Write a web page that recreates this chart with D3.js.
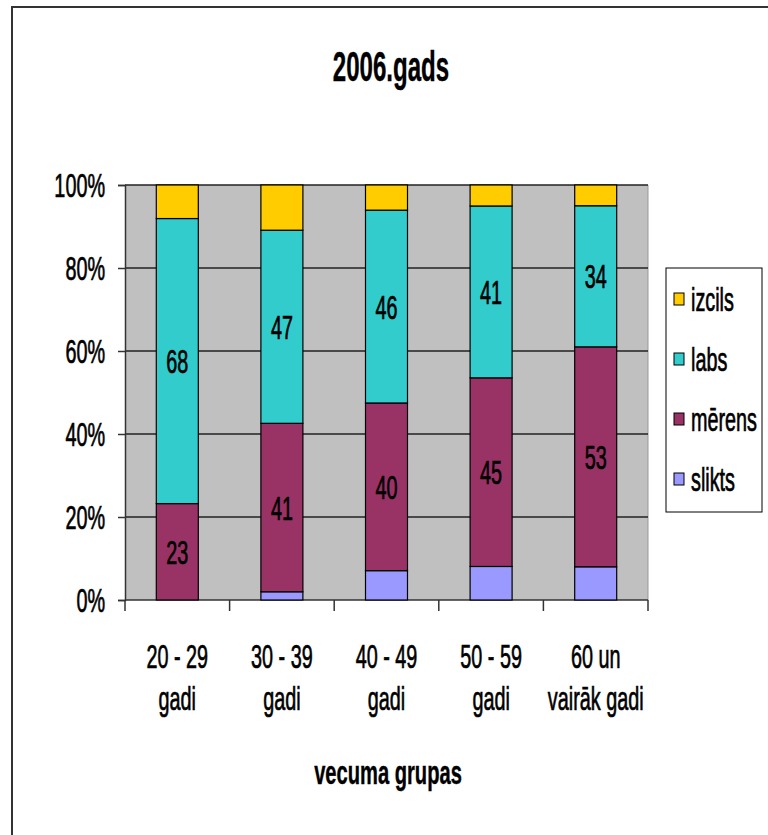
<!DOCTYPE html>
<html>
<head>
<meta charset="utf-8">
<script src="https://cdn.jsdelivr.net/npm/d3@7/dist/d3.min.js"></script>
<style>
  html, body { margin: 0; padding: 0; background: #fff; }
  svg { display: block; }
  text { font-family: 'Liberation Sans', Arial, sans-serif; fill: #000; }
</style>
</head>
<body>
<svg id="chart" width="768" height="835"></svg>
<script>
// age groups (two-line tick labels)
const groups = ['20 - 29 gadi', '30 - 39 gadi', '40 - 49 gadi', '50 - 59 gadi', '60 un vairāk gadi'];
const groupLines = [['20 - 29', 'gadi'], ['30 - 39', 'gadi'], ['40 - 49', 'gadi'], ['50 - 59', 'gadi'], ['60 un', 'vairāk gadi']];

// series, bottom to top
const slikts = [0, 2, 7, 8, 8];
const merens = [23, 41, 40, 45, 53];
const labs = [68, 47, 46, 41, 34];
const izcils = [8, 11, 6, 5, 5];

const seriesKeys = ['slikts', 'mērens', 'labs', 'izcils'];
const colors = {slikts: '#9999FF', 'mērens': '#993366', labs: '#33CCCC', izcils: '#FFCC00'};
const labelled = ['mērens', 'labs'];
const yTicks = [0, 0.2, 0.4, 0.6, 0.8, 1];

const rows = groups.map(function (g, i) {
  return {group: g, slikts: slikts[i], 'mērens': merens[i], labs: labs[i], izcils: izcils[i]};
});

const svg = d3.select('#chart');
const plot = {left: 125, top: 185, right: 648, bottom: 600};
const SX = 0.6;

function label(sel, x, y, txt, opts) {
  opts = opts || {};
  return sel.append('text')
    .attr('transform', 'translate(' + x + ',' + y + ') scale(' + (opts.sx || SX) + ',1)')
    .attr('text-anchor', opts.anchor || 'middle')
    .style('font-size', (opts.size || 33) + 'px')
    .style('font-weight', opts.bold ? 'bold' : 'normal')
    .style('stroke', '#000')
    .style('stroke-width', opts.bold ? 0.4 : 0.7)
    .text(txt);
}

// outer chart frame
svg.append('path')
  .attr('d', 'M12,840 L12,7 L770,7')
  .attr('fill', 'none')
  .attr('stroke', '#333')
  .attr('stroke-width', 2);

const x = d3.scaleBand().domain(groups).range([plot.left, plot.right]).paddingInner(0).paddingOuter(0);
const y = d3.scaleLinear().domain([0, 1]).range([plot.bottom, plot.top]);

// plot area
svg.append('rect')
  .attr('x', plot.left).attr('y', plot.top)
  .attr('width', plot.right - plot.left).attr('height', plot.bottom - plot.top)
  .attr('fill', '#C0C0C0');
svg.append('line')
  .attr('x1', plot.right).attr('x2', plot.right)
  .attr('y1', plot.top).attr('y2', plot.bottom)
  .attr('stroke', '#999').attr('stroke-width', 1);

// gridlines
svg.append('g').selectAll('line')
  .data(yTicks.filter(d => d > 0))
  .enter().append('line')
  .attr('x1', plot.left).attr('x2', plot.right)
  .attr('y1', d => y(d)).attr('y2', d => y(d))
  .attr('stroke', '#222').attr('stroke-width', 1.5);

// y axis
const yAxis = svg.append('g')
  .attr('transform', 'translate(' + plot.left + ',0)')
  .call(d3.axisLeft(y).tickValues(yTicks).tickSize(7).tickFormat(''));
yAxis.selectAll('line, path').attr('stroke', '#333').attr('stroke-width', 1.5);
yTicks.forEach(function (t) {
  label(svg, 105, y(t) + 12, d3.format('.0%')(t), {anchor: 'end'});
});

// x axis with ticks on band boundaries
svg.append('line')
  .attr('x1', plot.left).attr('x2', plot.right)
  .attr('y1', plot.bottom).attr('y2', plot.bottom)
  .attr('stroke', '#333').attr('stroke-width', 1.5);
const bounds = groups.map(g => x(g)).concat([plot.right]);
svg.append('g').selectAll('line')
  .data(bounds)
  .enter().append('line')
  .attr('x1', d => d).attr('x2', d => d)
  .attr('y1', plot.bottom).attr('y2', plot.bottom + 11)
  .attr('stroke', '#333').attr('stroke-width', 1.5);

groups.forEach(function (g, i) {
  const cx = x(g) + x.bandwidth() / 2;
  label(svg, cx, 668, groupLines[i][0]);
  label(svg, cx, 710, groupLines[i][1]);
});

// stacked bars
const stack = d3.stack().keys(seriesKeys).offset(d3.stackOffsetExpand);
const stacked = stack(rows);
const barW = 42;

const layer = svg.append('g').selectAll('g')
  .data(stacked)
  .enter().append('g')
  .attr('fill', d => colors[d.key]);

layer.selectAll('rect')
  .data(d => d.filter(s => s[1] - s[0] > 0))
  .enter().append('rect')
  .attr('x', d => x(d.data.group) + x.bandwidth() / 2 - barW / 2)
  .attr('y', d => y(d[1]))
  .attr('width', barW)
  .attr('height', d => y(d[0]) - y(d[1]))
  .attr('stroke', '#000')
  .attr('stroke-width', 1.2);

// value labels
stacked.filter(s => labelled.indexOf(s.key) >= 0).forEach(function (s) {
  s.forEach(function (d) {
    const cx = x(d.data.group) + x.bandwidth() / 2;
    const cy = (y(d[0]) + y(d[1])) / 2;
    label(svg, cx, cy + 12, d.data[s.key]);
  });
});

// title and axis title
label(svg, 391, 81, '2006.gads', {size: 43, bold: true, sx: 0.56});
label(svg, 388, 784, 'vecuma grupas', {size: 33, bold: true, sx: 0.61});

// legend
const legend = svg.append('g');
legend.append('rect')
  .attr('x', 666).attr('y', 268).attr('width', 96).attr('height', 244)
  .attr('fill', '#fff').attr('stroke', '#000').attr('stroke-width', 1);
seriesKeys.slice().reverse().forEach(function (k, i) {
  const by = 311 + i * 60;
  legend.append('rect')
    .attr('x', 674).attr('y', by - 18).attr('width', 10).attr('height', 12)
    .attr('fill', colors[k]).attr('stroke', '#000').attr('stroke-width', 1);
  label(legend, 691, by, k, {anchor: 'start'});
});
</script>
</body>
</html>
